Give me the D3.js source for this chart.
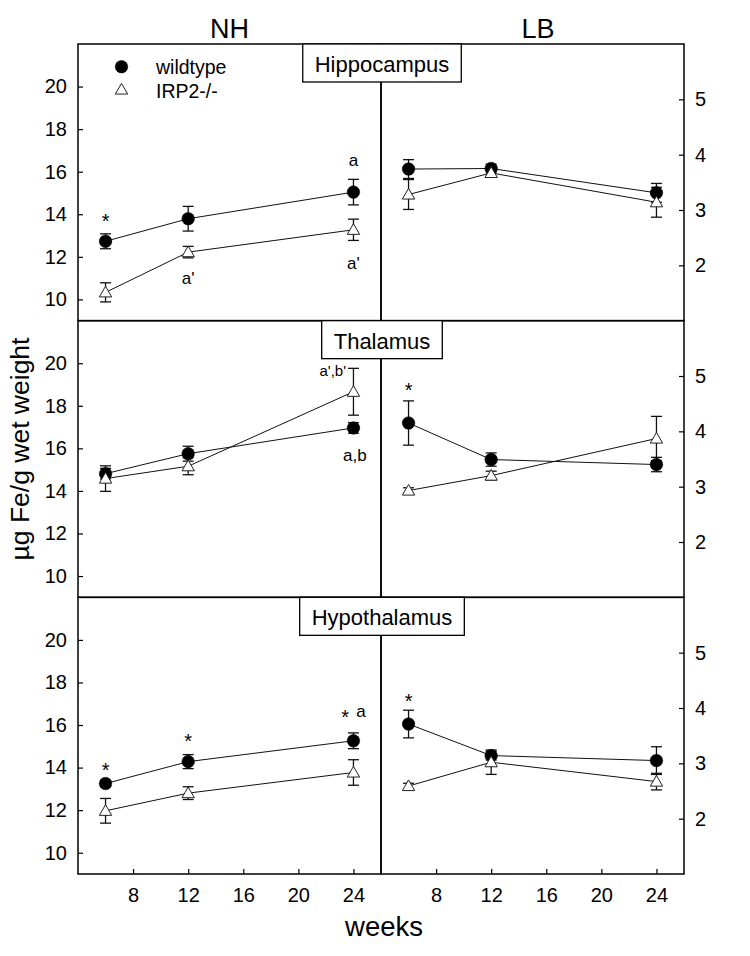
<!DOCTYPE html>
<html>
<head>
<meta charset="utf-8">
<script src="https://cdn.jsdelivr.net/npm/d3@7"></script>
<style>
  html, body { margin: 0; padding: 0; background: #fff; }
  svg { display: block; }
  text { font-family: "Liberation Sans", Arial, Helvetica, sans-serif; fill: #000; }
</style>
</head>
<body>
<svg id="chart" width="750" height="956"></svg>
<script>
// ---------------- DATA ----------------
const weeks = [6, 12, 24];
const regions = ["Hippocampus", "Thalamus", "Hypothalamus"];
const columns = ["NH", "LB"];
const seriesNames = ["wildtype", "IRP2-/-"];
const leftTicks = [10, 12, 14, 16, 18, 20];
const rightTicks = [2, 3, 4, 5];
const xTicks = [8, 12, 16, 20, 24];

// NH (left axis)
const nhWildMean = [[12.73, 13.79, 15.04], [14.81, 15.75, 16.96], [13.25, 14.28, 15.26]];
const nhWildErr  = [[0.35, 0.58, 0.60],   [0.25, 0.35, 0.25],   [0.15, 0.33, 0.37]];
const nhIrpMean  = [[10.33, 12.22, 13.27], [14.58, 15.16, 18.66], [11.97, 12.80, 13.77]];
const nhIrpErr   = [[0.45, 0.27, 0.50],   [0.60, 0.40, 1.10],   [0.58, 0.30, 0.60]];
// LB (right axis)
const lbWildMean = [[3.74, 3.75, 3.31], [4.15, 3.49, 3.40], [3.71, 3.14, 3.05]];
const lbWildErr  = [[0.17, 0.08, 0.17], [0.40, 0.12, 0.13], [0.25, 0.08, 0.25]];
const lbIrpMean  = [[3.28, 3.67, 3.14], [2.93, 3.20, 3.87], [2.59, 3.02, 2.67]];
const lbIrpErr   = [[0.27, 0.06, 0.27], [0.05, 0.08, 0.40], [0.05, 0.22, 0.15]];

// significance marks: row, column, week, value (text baseline in data units)
const annotations = [
  {row: 0, col: 0, week: 6,    value: 13.43, text: "*",     size: 20},
  {row: 0, col: 0, week: 24,   value: 16.25, text: "a",     size: 17},
  {row: 0, col: 0, week: 12,   value: 10.74, text: "a'",    size: 17},
  {row: 0, col: 0, week: 24,   value: 11.45, text: "a'",    size: 17},
  {row: 1, col: 0, week: 22.5, value: 19.40, text: "a',b'", size: 15},
  {row: 1, col: 0, week: 24.1, value: 15.39, text: "a,b",   size: 17},
  {row: 1, col: 1, week: 6,    value: 4.65,  text: "*",     size: 20},
  {row: 2, col: 0, week: 6,    value: 13.66, text: "*",     size: 20},
  {row: 2, col: 0, week: 12,   value: 15.03, text: "*",     size: 20},
  {row: 2, col: 0, week: 23.4, value: 16.16, text: "*",     size: 20},
  {row: 2, col: 0, week: 24.55,value: 16.37, text: "a",     size: 17},
  {row: 2, col: 1, week: 6,    value: 4.04,  text: "*",     size: 20}
];

// ---------------- LAYOUT ----------------
const svg = d3.select("#chart");
const X0 = 78, XM = 381, X1 = 684, Y0 = 44, Y1 = 874;
const rowH = (Y1 - Y0) / 3;
const FONT = "\"Liberation Sans\", Arial, sans-serif";

const xScales = [
  d3.scaleLinear().domain([4, 26]).range([X0, XM]),
  d3.scaleLinear().domain([4, 26]).range([XM, X1])
];
function yScale(row, col) {
  const top = Y0 + row * rowH, bot = top + rowH;
  return col === 0
    ? d3.scaleLinear().domain([9, 22]).range([bot, top])
    : d3.scaleLinear().domain([1, 6]).range([bot, top]);
}

const means = [[nhWildMean, nhIrpMean], [lbWildMean, lbIrpMean]];
const errs  = [[nhWildErr, nhIrpErr],   [lbWildErr, lbIrpErr]];

const triPath = d3.symbol().type(d3.symbolTriangle).size(66)();

function drawCircle(g, x, y) {
  g.append("circle").attr("cx", x).attr("cy", y).attr("r", 6.3)
    .attr("fill", "#000").attr("stroke", "#000").attr("stroke-width", 0.5);
}
function drawTri(g, x, y) {
  g.append("path").attr("d", triPath)
    .attr("transform", `translate(${x},${y + 1})`)
    .attr("fill", "#fff").attr("stroke", "#222").attr("stroke-width", 1);
}

for (let r = 0; r < 3; r++) {
  for (let c = 0; c < 2; c++) {
    const x = xScales[c], y = yScale(r, c);
    const g = svg.append("g");
    // connecting lines
    for (let s = 0; s < 2; s++) {
      const vals = means[c][s][r];
      const line = d3.line().x((d, i) => x(weeks[i])).y(d => y(d));
      g.append("path").attr("d", line(vals))
        .attr("fill", "none").attr("stroke", "#111").attr("stroke-width", 1);
    }
    // error bars
    for (let s = 0; s < 2; s++) {
      const vals = means[c][s][r], ev = errs[c][s][r];
      vals.forEach((v, i) => {
        const cx = x(weeks[i]);
        const yt = y(v + ev[i]), yb = y(v - ev[i]);
        const col = "#111";
        g.append("line").attr("x1", cx).attr("x2", cx).attr("y1", yt).attr("y2", yb)
          .attr("stroke", col).attr("stroke-width", 1.3);
        [yt, yb].forEach(yy => g.append("line")
          .attr("x1", cx - 5.5).attr("x2", cx + 5.5).attr("y1", yy).attr("y2", yy)
          .attr("stroke", col).attr("stroke-width", 1.3));
      });
    }
    // markers
    means[c][0][r].forEach((v, i) => drawCircle(g, x(weeks[i]), y(v)));
    means[c][1][r].forEach((v, i) => drawTri(g, x(weeks[i]), y(v)));

    // panel frame
    const top = Y0 + r * rowH;
    g.append("rect").attr("x", c === 0 ? X0 : XM).attr("y", top)
      .attr("width", c === 0 ? XM - X0 : X1 - XM).attr("height", rowH)
      .attr("fill", "none").attr("stroke", "#000").attr("stroke-width", 1.5);
  }

  // left axis
  const yl = yScale(r, 0);
  const la = svg.append("g").attr("transform", `translate(${X0},0)`)
    .call(d3.axisLeft(yl).tickValues(leftTicks).tickFormat(d3.format("d"))
      .tickSizeInner(-5).tickSizeOuter(0).tickPadding(11));
  la.select(".domain").remove();
  la.selectAll("text").attr("font-size", 20).attr("font-family", FONT).attr("fill", "#111");
  la.selectAll("line").attr("stroke", "#000").attr("stroke-width", 1.2);

  // right axis
  const yr = yScale(r, 1);
  const ra = svg.append("g").attr("transform", `translate(${X1},0)`)
    .call(d3.axisRight(yr).tickValues(rightTicks).tickFormat(d3.format("d"))
      .tickSizeInner(-5).tickSizeOuter(0).tickPadding(11));
  ra.select(".domain").remove();
  ra.selectAll("text").attr("font-size", 20).attr("font-family", FONT).attr("fill", "#111");
  ra.selectAll("line").attr("stroke", "#000").attr("stroke-width", 1.2);

  // region label box
  const midX = 382;
  const lab = svg.append("text").attr("x", midX).attr("y", Y0 + r * rowH + 28)
    .attr("text-anchor", "middle").attr("font-size", 22).attr("font-family", FONT)
    .text(regions[r]);
  const w = lab.node().getComputedTextLength() + 24;
  svg.insert("rect", () => lab.node())
    .attr("x", midX - w / 2).attr("y", Y0 + r * rowH).attr("width", w).attr("height", 38)
    .attr("fill", "#fff").attr("stroke", "#000").attr("stroke-width", 1.3);
}

// bottom x axes
for (let c = 0; c < 2; c++) {
  const xa = svg.append("g").attr("transform", `translate(0,${Y1})`)
    .call(d3.axisBottom(xScales[c]).tickValues(xTicks).tickFormat(d3.format("d"))
      .tickSizeInner(-5).tickSizeOuter(0).tickPadding(14));
  xa.select(".domain").remove();
  xa.selectAll("text").attr("font-size", 20).attr("font-family", FONT).attr("fill", "#111");
  xa.selectAll("line").attr("stroke", "#000").attr("stroke-width", 1.2);
}

// annotations
annotations.forEach(a => {
  const x = xScales[a.col], y = yScale(a.row, a.col);
  svg.append("text").attr("x", x(a.week)).attr("y", y(a.value) + (a.text === "*" ? 2 : 0))
    .attr("text-anchor", "middle").attr("font-size", a.size).attr("font-family", FONT)
    .attr("fill", "#111").text(a.text);
});

// legend
const lg = svg.append("g");
drawCircle(lg, 121.5, 66.7);
drawTri(lg, 121.5, 89.5);
lg.append("text").attr("x", 156).attr("y", 74).attr("font-size", 19.5).attr("font-family", FONT).text(seriesNames[0]);
lg.append("text").attr("x", 156).attr("y", 98).attr("font-size", 19.5).attr("font-family", FONT).text(seriesNames[1]);

// column headers
svg.append("text").attr("x", (X0 + XM) / 2).attr("y", 37.5).attr("text-anchor", "middle")
  .attr("font-size", 27).attr("font-family", FONT).text(columns[0]);
svg.append("text").attr("x", 538).attr("y", 37.5).attr("text-anchor", "middle")
  .attr("font-size", 27).attr("font-family", FONT).text(columns[1]);

// axis titles
svg.append("text").attr("transform", "translate(28.5,449) rotate(-90)").attr("text-anchor", "middle")
  .attr("font-size", 26.5).attr("font-family", FONT).text("µg Fe/g wet weight");
svg.append("text").attr("x", 384).attr("y", 936).attr("text-anchor", "middle")
  .attr("font-size", 27.5).attr("font-family", FONT).text("weeks");
</script>
</body>
</html>
